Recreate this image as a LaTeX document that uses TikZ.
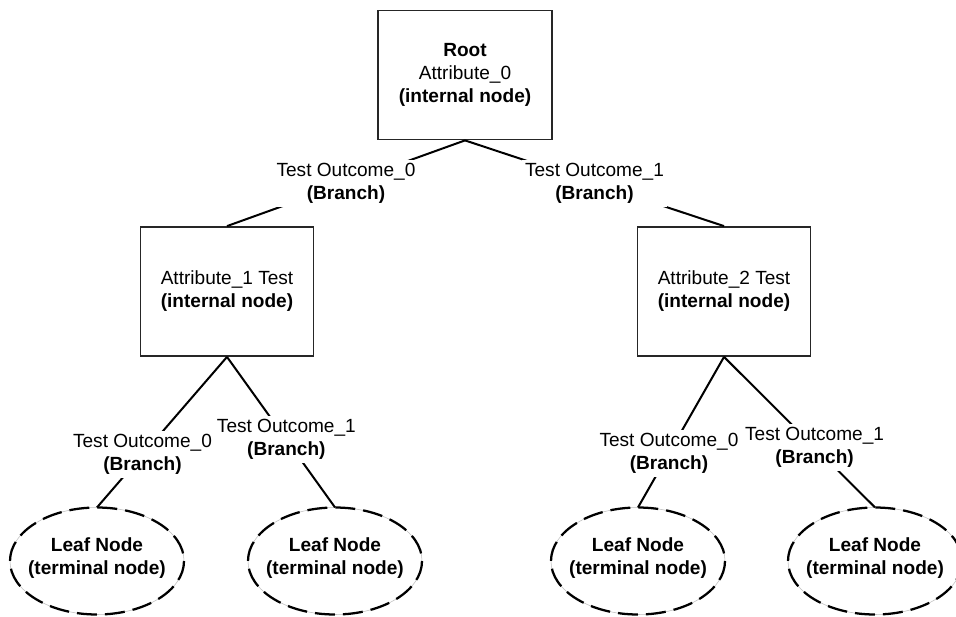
\documentclass[tikz,border=0pt]{standalone}
\usepackage{fontspec}
\setmainfont{Liberation Sans}
\usetikzlibrary{shapes.geometric}

\tikzset{
  testbox/.style={draw=black!85, line width=1.1pt, rectangle, inner sep=0pt,
    minimum width=129.5pt, minimum height=97pt, align=center,
    font=\fontsize{14.3}{17.25}\selectfont},
  leafnode/.style={ellipse, inner sep=0pt, minimum width=130pt, minimum height=80pt,
    align=center, font=\fontsize{14.3}{17.25}\selectfont\bfseries},
  leafrim/.style={draw=black!25, line width=0.4pt},
  leafdash/.style={draw=black, line width=1.7pt, dash pattern=on 15pt off 6pt},
  edge/.style={draw=black, line width=1.5pt},
  outcome/.style={fill=white, inner sep=2.5pt, align=center,
    font=\fontsize{14.3}{17.25}\selectfont},
}

\begin{document}
\begin{tikzpicture}[x=0.75pt, y=-0.75pt]
  \useasboundingbox (0,0) rectangle (956,617);
  \fill[white] (0,0) rectangle (956,617);

  % internal nodes
  \node[testbox, minimum width=130.5pt] (root) at (465,75)
    {\textbf{Root}\\Attribute\_0\\\textbf{(internal node)}};
  \node[testbox] (att1) at (227,291.5)
    {Attribute\_1 Test\\\textbf{(internal node)}};
  \node[testbox] (att2) at (724,291.5)
    {Attribute\_2 Test\\\textbf{(internal node)}};

  % terminal nodes: the text sits a little above the middle of the rim
  \node[leafnode] (leaf1) at (97,558) {Leaf Node\\(terminal node)};
  \node[leafnode] (leaf2) at (335,558) {Leaf Node\\(terminal node)};
  \node[leafnode] (leaf3) at (638,558) {Leaf Node\\(terminal node)};
  \node[leafnode] (leaf4) at (875,558) {Leaf Node\\(terminal node)};
  \foreach \n in {leaf1,leaf2,leaf3,leaf4}{
    \draw[leafrim] ([yshift=-2.25pt]\n.center) ellipse [x radius=87, y radius=53.5];
    \draw[leafdash] ([yshift=-2.25pt]\n.center) ellipse [x radius=87, y radius=53.5];
  }

  % branches with their outcome labels
  \draw[edge] (root.south) -- node[outcome, pos=0.5]
    {Test Outcome\_0\\\textbf{(Branch)}} (att1.north);
  \draw[edge] (root.south) -- node[outcome, pos=0.5]
    {Test Outcome\_1\\\textbf{(Branch)}} (att2.north);
  \draw[edge] (att1.south) -- node[outcome, pos=0.65]
    {Test Outcome\_0\\\textbf{(Branch)}} ([yshift=-2.25pt]leaf1.north);
  \draw[edge] (att1.south) -- node[outcome, pos=0.55]
    {Test Outcome\_1\\\textbf{(Branch)}} ([yshift=-2.25pt]leaf2.north);
  \draw[edge] (att2.south) -- node[outcome, pos=0.64]
    {Test Outcome\_0\\\textbf{(Branch)}} ([yshift=-2.25pt]leaf3.north);
  \draw[edge] (att2.south) -- node[outcome, pos=0.6]
    {Test Outcome\_1\\\textbf{(Branch)}} ([yshift=-2.25pt]leaf4.north);
\end{tikzpicture}
\end{document}
